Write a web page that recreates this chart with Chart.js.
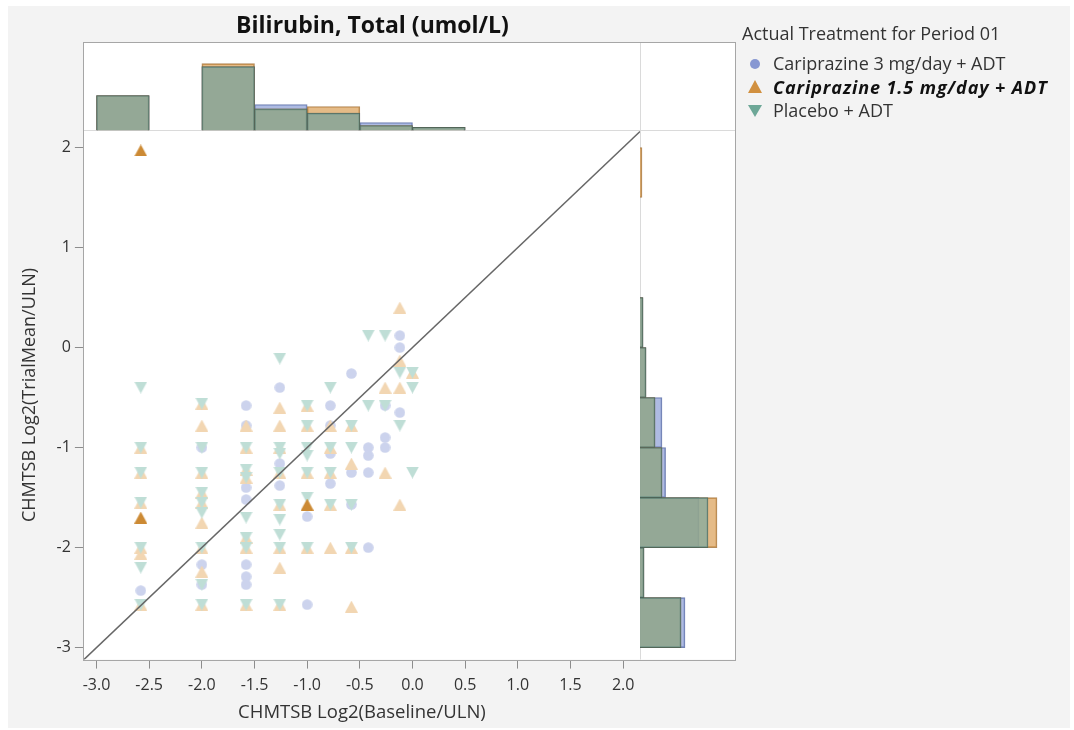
<!DOCTYPE html>
<html>
<head>
<meta charset="utf-8">
<script src="https://cdn.jsdelivr.net/npm/chart.js@4.4.1/dist/chart.umd.min.js"></script>
<style>
  html, body { margin: 0; padding: 0; background: #fff; }
  #panel { position: absolute; left: 8px; top: 6px; width: 1062px; height: 722px; background: #f3f3f3; }
  #c { position: absolute; left: 0; top: 0; }
  #legend { position: absolute; left: 742px; top: 21px; font-family: 'Open Sans', sans-serif; color: #333; font-size: 18px; }
  #legend .lt { line-height: 24px; }
  #legend .items { margin-top: 7px; }
  #legend .it { position: relative; padding-left: 31px; line-height: 23.5px; white-space: nowrap; }
  #legend .it.sel { font-weight: bold; font-style: italic; color: #111; letter-spacing: 0.9px; }
  #legend .mk { position: absolute; left: 8px; top: 50%; }
  #legend .dot { width: 10px; height: 10px; margin-top: -5px; border-radius: 50%; background: #8797d2; }
  #legend .up { width: 0; height: 0; margin-top: -7px; left: 6px; border-left: 7px solid transparent; border-right: 7px solid transparent; border-bottom: 13px solid #d1903f; }
  #legend .down { width: 0; height: 0; margin-top: -6px; left: 6px; border-left: 7px solid transparent; border-right: 7px solid transparent; border-top: 12px solid #6da797; }
</style>
</head>
<body>
<div id="panel"></div>
<canvas id="c" width="745" height="730"></canvas>
<div id="legend">
  <div class="lt">Actual Treatment for Period 01</div>
  <div class="items">
    <div class="it"><span class="mk dot"></span><span id="g0"></span></div>
    <div class="it sel"><span class="mk up"></span><span id="g1"></span></div>
    <div class="it"><span class="mk down"></span><span id="g2"></span></div>
  </div>
</div>
<script>
const groups = ['Cariprazine 3 mg/day + ADT', 'Cariprazine 1.5 mg/day + ADT', 'Placebo + ADT'];

const xTicks = [-3.0, -2.5, -2.0, -1.5, -1.0, -0.5, 0.0, 0.5, 1.0, 1.5, 2.0];
const yTicks = [-3, -2, -1, 0, 1, 2];
const xRange = [-3.12, 2.16];
const yRange = [-3.12, 2.17];

// marginal histograms, 0.5 wide bins
const baseBinMid = [-2.75, -1.75, -1.25, -0.75, -0.25, 0.25];
const baseHist3 = [17.5, 32, 13, 8.7, 4, 1.6];
const baseHist15 = [17.5, 33.5, 10.8, 12, 2.5, 1.6];
const baseHistPbo = [17.5, 32, 10.8, 8.7, 2.5, 1.6];

const trialBinMid = [1.75, 0.25, -0.25, -0.75, -1.25, -1.75, -2.25, -2.75];
const trialHist3 = [0, 1.5, 3, 11, 12.8, 29.5, 2, 22.5];
const trialHist15 = [1, 1.5, 3, 7.5, 11, 38.5, 2, 20.5];
const trialHistPbo = [0, 1.5, 3, 7.5, 11, 34, 2, 20.5];

// [baseline, trial mean] per subject
const cari3Pts = [
  [-2.58, -2.43],
  [-2.0, -1.0], [-2.0, -2.17], [-2.0, -2.37],
  [-1.58, -0.58], [-1.58, -0.78], [-1.58, -1.4], [-1.58, -1.52], [-1.58, -2.17], [-1.58, -2.29], [-1.58, -2.37],
  [-1.26, -0.4], [-1.26, -1.16], [-1.26, -1.38],
  [-1.0, -1.69], [-1.0, -2.57],
  [-0.78, -0.58], [-0.78, -0.78], [-0.78, -1.06], [-0.78, -1.36],
  [-0.58, -0.26], [-0.58, -1.25], [-0.58, -1.57],
  [-0.42, -1.0], [-0.42, -1.08], [-0.42, -1.25], [-0.42, -2.0],
  [-0.26, -0.58], [-0.26, -0.9], [-0.26, -1.0],
  [-0.12, 0.12], [-0.12, 0.0], [-0.12, -0.65]
];
const cari15Pts = [
  [-2.58, -1.0], [-2.58, -1.25], [-2.58, -1.55], [-2.58, -2.0], [-2.58, -2.06], [-2.58, -2.57],
  [-2.0, -0.56], [-2.0, -0.78], [-2.0, -1.25], [-2.0, -1.45], [-2.0, -1.55], [-2.0, -1.75], [-2.0, -2.0], [-2.0, -2.24], [-2.0, -2.57],
  [-1.58, -0.78], [-1.58, -1.0], [-1.58, -1.22], [-1.58, -1.3], [-1.58, -1.9], [-1.58, -2.0], [-1.58, -2.57],
  [-1.26, -0.6], [-1.26, -0.78], [-1.26, -1.0], [-1.26, -1.25], [-1.26, -1.57], [-1.26, -2.0], [-1.26, -2.2], [-1.26, -2.57],
  [-1.0, -0.58], [-1.0, -0.78], [-1.0, -1.25], [-1.0, -2.0],
  [-0.78, -0.78], [-0.78, -1.0], [-0.78, -1.25], [-0.78, -1.57], [-0.78, -2.0],
  [-0.58, -0.78], [-0.58, -1.16], [-0.58, -2.0], [-0.58, -2.59],
  [-0.26, -0.4], [-0.26, -1.25],
  [-0.12, 0.4], [-0.12, -0.13], [-0.12, -0.4], [-0.12, -1.57],
  [0.0, -0.25]
];
// selected rows, drawn solid
const cari15Sel = [[-2.58, 1.97], [-2.58, -1.7], [-1.0, -1.57]];
const pboPts = [
  [-2.58, -0.4], [-2.58, -1.0], [-2.58, -1.25], [-2.58, -1.55], [-2.58, -2.0], [-2.58, -2.2], [-2.58, -2.57],
  [-2.0, -0.56], [-2.0, -1.0], [-2.0, -1.25], [-2.0, -1.45], [-2.0, -1.55], [-2.0, -1.65], [-2.0, -2.0], [-2.0, -2.37], [-2.0, -2.57],
  [-1.58, -1.0], [-1.58, -1.22], [-1.58, -1.3], [-1.58, -1.7], [-1.58, -1.9], [-1.58, -2.0], [-1.58, -2.57],
  [-1.26, -0.11], [-1.26, -1.0], [-1.26, -1.06], [-1.26, -1.25], [-1.26, -1.57], [-1.26, -1.72], [-1.26, -1.87], [-1.26, -2.0], [-1.26, -2.57],
  [-1.0, -0.58], [-1.0, -0.78], [-1.0, -1.0], [-1.0, -1.08], [-1.0, -1.25], [-1.0, -1.5], [-1.0, -2.0],
  [-0.78, -0.4], [-0.78, -1.0], [-0.78, -1.25], [-0.78, -1.57],
  [-0.58, -0.78], [-0.58, -1.0], [-0.58, -1.57], [-0.58, -2.0],
  [-0.42, 0.12], [-0.42, -0.58],
  [-0.26, 0.12], [-0.26, -0.58],
  [-0.12, -0.25], [-0.12, -0.78],
  [0.0, -0.25], [0.0, -0.4], [0.0, -1.25]
];

groups.forEach((g, i) => { document.getElementById('g' + i).textContent = g; });

Chart.defaults.font.family = "'Open Sans', sans-serif";
Chart.defaults.color = '#333';

// small bitmap markers, centred on their bounding box
function marker(kind, color) {
  const w = kind === 'dot' ? 11 : 13, h = kind === 'dot' ? 11 : 12;
  const cv = document.createElement('canvas');
  cv.width = w; cv.height = h;
  const g = cv.getContext('2d');
  g.fillStyle = color;
  g.beginPath();
  if (kind === 'dot') g.arc(w / 2, h / 2, 5.3, 0, Math.PI * 2);
  else if (kind === 'up') { g.moveTo(w / 2, 0); g.lineTo(w, h); g.lineTo(0, h); }
  else { g.moveTo(0, 0); g.lineTo(w, 0); g.lineTo(w / 2, h); }
  g.closePath();
  g.fill();
  return cv;
}

const toXY = pts => pts.map(p => ({x: p[0], y: p[1]}));

function pointSet(label, pts, style, order) {
  return {
    type: 'scatter', label, order, xAxisID: 'x', yAxisID: 'y',
    data: toXY(pts), pointStyle: style, pointRadius: 6, pointBorderWidth: 0
  };
}

function histSet(label, mids, vals, onBase, fill, border, order) {
  return {
    type: 'bar', label, order, grouped: false,
    indexAxis: onBase ? 'x' : 'y',
    xAxisID: onBase ? 'x' : 'xRight',
    yAxisID: onBase ? 'yTop' : 'y',
    data: mids.map((m, i) => onBase ? {x: m, y: vals[i]} : {x: vals[i], y: m}),
    backgroundColor: fill, borderColor: border, borderWidth: 1,
    barPercentage: 1, categoryPercentage: 1
  };
}

const fill3 = 'rgba(130,150,210,0.65)', edge3 = 'rgba(80,100,160,0.8)';
const fill15 = 'rgba(215,150,70,0.65)', edge15 = 'rgba(160,110,50,0.8)';
const fillPbo = 'rgba(125,170,161,0.7)', edgePbo = 'rgba(70,100,90,0.85)';

// white plot panels, divider lines and outer frame
const panelFrame = {
  id: 'panelFrame',
  beforeDraw(chart) {
    const {ctx, chartArea: a} = chart;
    ctx.save();
    ctx.fillStyle = '#fff';
    ctx.fillRect(a.left, a.top, a.right - a.left, a.bottom - a.top);
    ctx.restore();
  },
  beforeDatasetsDraw(chart) {
    const {ctx, chartArea: a} = chart;
    const hy = Math.round(chart.scales.y.top) + 0.5;
    const vx = Math.round(chart.scales.xRight.left) + 0.5;
    ctx.save();
    ctx.strokeStyle = '#dadada';
    ctx.lineWidth = 1;
    ctx.beginPath();
    ctx.moveTo(a.left, hy); ctx.lineTo(a.right, hy);
    ctx.moveTo(vx, a.top); ctx.lineTo(vx, a.bottom);
    ctx.stroke();
    ctx.restore();
  },
  afterDraw(chart) {
    const {ctx, chartArea: a} = chart;
    ctx.save();
    ctx.strokeStyle = '#a6a6a6';
    ctx.lineWidth = 1;
    ctx.strokeRect(Math.round(a.left) - 0.5, Math.round(a.top) - 0.5, Math.round(a.right - a.left) + 1, Math.round(a.bottom - a.top) + 1);
    ctx.restore();
  }
};

new Chart(document.getElementById('c'), {
  type: 'scatter',
  data: {
    datasets: [
      pointSet(groups[1], cari15Sel, marker('up', '#cc8a34'), 0),
      {
        type: 'line', label: 'identity', order: 1, xAxisID: 'x', yAxisID: 'y',
        data: [{x: xRange[0], y: xRange[0]}, {x: xRange[1], y: xRange[1]}],
        borderColor: '#676767', borderWidth: 1.5, pointRadius: 0, fill: false
      },
      pointSet(groups[2], pboPts, marker('down', '#bfded6'), 2),
      pointSet(groups[1], cari15Pts, marker('up', '#f2d6b2'), 3),
      pointSet(groups[0], cari3Pts, marker('dot', '#ccd3ed'), 4),
      histSet(groups[2], baseBinMid, baseHistPbo, true, fillPbo, edgePbo, 2),
      histSet(groups[1], baseBinMid, baseHist15, true, fill15, edge15, 3),
      histSet(groups[0], baseBinMid, baseHist3, true, fill3, edge3, 4),
      histSet(groups[2], trialBinMid, trialHistPbo, false, fillPbo, edgePbo, 2),
      histSet(groups[1], trialBinMid, trialHist15, false, fill15, edge15, 3),
      histSet(groups[0], trialBinMid, trialHist3, false, fill3, edge3, 4)
    ]
  },
  options: {
    responsive: false,
    animation: false,
    layout: {padding: {left: 10, right: 10, top: 0, bottom: 6}},
    plugins: {
      legend: {display: false},
      tooltip: {enabled: false},
      title: {
        display: true, text: 'Bilirubin, Total (umol/L)', color: '#111',
        font: {size: 23, weight: 'bold'}, padding: {top: 13, bottom: 2}
      }
    },
    scales: {
      x: {
        type: 'linear', position: 'bottom', stack: 'base', stackWeight: 556, weight: 0,
        min: xRange[0], max: xRange[1], offset: false,
        afterBuildTicks: s => { s.ticks = xTicks.map(v => ({value: v})); },
        // the last label sits well inside the panel, no side padding needed
        afterFit: s => { s.paddingLeft = 0; s.paddingRight = 0; },
        ticks: {callback: v => v.toFixed(1), font: {size: 16}, padding: 7, maxRotation: 0, autoSkip: false},
        grid: {display: true, offset: false, drawOnChartArea: false, drawTicks: true, tickLength: 9, color: '#8c8c8c'},
        border: {display: false},
        title: {display: true, text: 'CHMTSB Log2(Baseline/ULN)', font: {size: 18.5}, padding: {top: 0, bottom: 0}}
      },
      xRight: {
        type: 'linear', position: 'bottom', stack: 'base', stackWeight: 95, weight: 1,
        min: 0, max: 47.5, offset: false,
        ticks: {display: false}, grid: {display: false, offset: false}, border: {display: false}
      },
      yTop: {
        type: 'linear', position: 'left', stack: 'side', stackWeight: 88, weight: 1,
        min: 0, max: 44, offset: false,
        ticks: {display: false}, grid: {display: false, offset: false}, border: {display: false}
      },
      y: {
        type: 'linear', position: 'left', stack: 'side', stackWeight: 530, weight: 0,
        min: yRange[0], max: yRange[1], offset: false,
        afterBuildTicks: s => { s.ticks = yTicks.map(v => ({value: v})); },
        ticks: {callback: v => String(v), font: {size: 16}, padding: 4, autoSkip: false},
        grid: {display: true, offset: false, drawOnChartArea: false, drawTicks: true, tickLength: 9, color: '#8c8c8c'},
        border: {display: false},
        title: {display: true, text: 'CHMTSB Log2(TrialMean/ULN)', font: {size: 18}, padding: {top: 9, bottom: 12}}
      }
    }
  },
  plugins: [panelFrame]
});
</script>
</body>
</html>
